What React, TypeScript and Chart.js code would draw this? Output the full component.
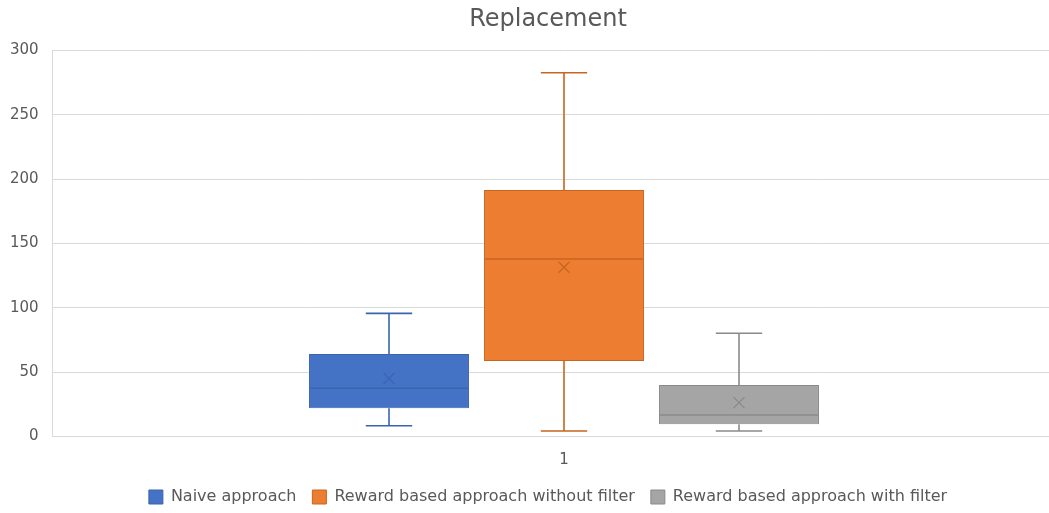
import { useEffect, useRef } from "react";
import { Chart, registerables } from "chart.js";

Chart.register(...registerables);

// Box-and-whisker summary for the single group "1"
const categories = ["1"];
const seriesNames = [
  "Naive approach",
  "Reward based approach without filter",
  "Reward based approach with filter",
];
const minValues = [8.4, 4.3, 4.3];
const q1Values = [21.9, 58.7, 9.5];
const medianValues = [37.5, 138, 16.7];
const q3Values = [64.1, 191.6, 40.0];
const maxValues = [95.7, 282.7, 80.2];
const meanValues = [45.2, 131.5, 26.3];
const yTicks = [0, 50, 100, 150, 200, 250, 300];

const fillColors = ["#4472C4", "#ED7D31", "#A5A5A5"];
const lineColors = ["#3A64AE", "#C8661F", "#8A8A8A"];

const FONT = "'DejaVu Sans', 'Noto Sans', sans-serif";
const TEXT = "#595959";
const GRID = "#D9D9D9";

// Whiskers, caps, median line and mean marker, placed with the chart's own scales
const whiskerPlugin = {
  id: "boxWhiskers",
  afterDatasetsDraw(chart: any) {
    const { ctx } = chart;
    const y = chart.scales.y;
    chart.data.datasets.forEach((_ds: any, i: number) => {
      const meta = chart.getDatasetMeta(i);
      if (meta.hidden) return;
      meta.data.forEach((bar: any) => {
        const { x, width } = bar.getProps(["x", "width"], true);
        const yMin = y.getPixelForValue(minValues[i]);
        const yQ1 = y.getPixelForValue(q1Values[i]);
        const yMed = y.getPixelForValue(medianValues[i]);
        const yQ3 = y.getPixelForValue(q3Values[i]);
        const yMax = y.getPixelForValue(maxValues[i]);
        const yMean = y.getPixelForValue(meanValues[i]);
        const capHalf = width * 0.145;
        const left = x - width / 2;
        const right = x + width / 2;

        ctx.save();
        ctx.strokeStyle = lineColors[i];
        ctx.lineWidth = 1.6;
        ctx.beginPath();
        // upper whisker
        ctx.moveTo(x, yQ3);
        ctx.lineTo(x, yMax);
        ctx.moveTo(x - capHalf, yMax);
        ctx.lineTo(x + capHalf, yMax);
        // lower whisker
        ctx.moveTo(x, yQ1);
        ctx.lineTo(x, yMin);
        ctx.moveTo(x - capHalf, yMin);
        ctx.lineTo(x + capHalf, yMin);
        // median
        ctx.moveTo(left + 1, yMed);
        ctx.lineTo(right - 1, yMed);
        ctx.stroke();

        // mean marker
        const m = 5.5;
        ctx.lineWidth = 1.3;
        ctx.beginPath();
        ctx.moveTo(x - m, yMean - m);
        ctx.lineTo(x + m, yMean + m);
        ctx.moveTo(x - m, yMean + m);
        ctx.lineTo(x + m, yMean - m);
        ctx.stroke();
        ctx.restore();
      });
    });
  },
};

export default function App() {
  const canvasRef = useRef<HTMLCanvasElement | null>(null);

  useEffect(() => {
    if (!canvasRef.current) return;
    const chart = new Chart(canvasRef.current, {
      type: "bar",
      data: {
        labels: categories,
        datasets: seriesNames.map((name, i) => ({
          label: name,
          data: [[q1Values[i], q3Values[i]]] as any,
          backgroundColor: fillColors[i],
          borderColor: lineColors[i],
          borderWidth: 1,
          borderSkipped: false,
          categoryPercentage: 0.5127,
          barPercentage: 0.914,
        })),
      },
      options: {
        animation: false,
        responsive: true,
        maintainAspectRatio: false,
        layout: { padding: { left: 20, right: 22, top: 0, bottom: 0 } },
        plugins: {
          title: {
            display: true,
            text: "Replacement",
            color: TEXT,
            font: { family: FONT, size: 24, weight: "normal" },
            padding: { top: 5, bottom: 16.7 },
          },
          legend: {
            display: true,
            position: "bottom",
            labels: {
              color: TEXT,
              font: { family: FONT, size: 16 },
              boxWidth: 14,
              boxHeight: 14,
              padding: 16,
            },
          },
          tooltip: { enabled: false },
        },
        scales: {
          x: {
            grid: { display: false, drawTicks: false },
            border: { display: true, color: GRID, width: 1 },
            ticks: {
              color: TEXT,
              font: { family: FONT, size: 15 },
              padding: 15,
            },
            afterFit(scale: any) {
              scale.height = 36.5;
            },
          },
          y: {
            min: 0,
            max: 300,
            afterBuildTicks(scale: any) {
              scale.ticks = yTicks.map((v) => ({ value: v }));
            },
            grid: { color: GRID, drawTicks: false },
            border: { display: true, color: GRID, width: 1 },
            ticks: {
              color: TEXT,
              font: { family: FONT, size: 15 },
              // right-aligned labels ending 13px left of the plot edge
              mirror: true,
              crossAlign: "far",
              padding: -42,
            },
            afterFit(scale: any) {
              scale.width = 32;
            },
          },
        },
      },
      plugins: [whiskerPlugin],
    });
    return () => chart.destroy();
  }, []);

  return (
    <div
      style={{
        position: "absolute",
        left: 0,
        top: 0,
        width: 1049,
        height: 513,
        overflow: "hidden",
        background: "#FFFFFF",
      }}
    >
      <div style={{ position: "relative", width: 1098, height: 515 }}>
        <canvas ref={canvasRef} />
      </div>
    </div>
  );
}
